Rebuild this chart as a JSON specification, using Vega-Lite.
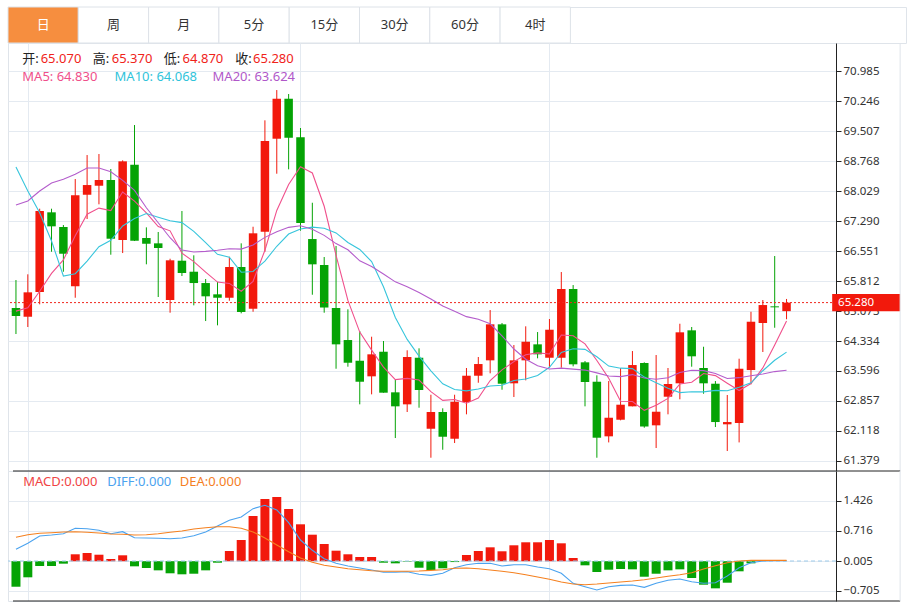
{
"$schema": "https://vega.github.io/schema/vega-lite/v6.json",
"padding": {"left": 7, "top": 6, "right": 6, "bottom": 3},
"background": "white",
"spacing": 0,
"bounds": "flush",
"config": {
  "view": {"stroke": "#dfe4ea"},
  "axis": {"labelFont": "Noto Sans", "labelFontSize": 11.5, "labelColor": "#333", "domainColor": "#222", "tickColor": "#222", "gridColor": "#e4eaf1", "labelOverlap": false}
},
"datasets": {
"k": [
{"i":0,"o":65.147,"h":65.836,"l":64.506,"c":64.950,"ma5":65.07,"ma10":68.62,"ma20":67.684,"macd":-0.604,"diff":0.282,"dea":0.566},
{"i":1,"o":64.932,"h":65.977,"l":64.679,"c":65.533,"ma5":65.15,"ma10":68.029,"ma20":67.782,"macd":-0.381,"diff":0.424,"dea":0.628},
{"i":2,"o":65.541,"h":67.593,"l":65.238,"c":67.536,"ma5":65.56,"ma10":67.494,"ma20":68.029,"macd":-0.113,"diff":0.597,"dea":0.661},
{"i":3,"o":67.504,"h":67.593,"l":66.533,"c":67.159,"ma5":66.0,"ma10":66.797,"ma20":68.226,"macd":-0.113,"diff":0.621,"dea":0.675},
{"i":4,"o":67.142,"h":67.191,"l":66.041,"c":66.484,"ma5":66.332,"ma10":65.935,"ma20":68.317,"macd":-0.058,"diff":0.652,"dea":0.692},
{"i":5,"o":65.681,"h":68.324,"l":65.400,"c":67.923,"ma5":66.927,"ma10":65.991,"ma20":68.440,"macd":0.164,"diff":0.779,"dea":0.699},
{"i":6,"o":67.937,"h":68.915,"l":67.339,"c":68.176,"ma5":67.456,"ma10":66.304,"ma20":68.595,"macd":0.194,"diff":0.770,"dea":0.685},
{"i":7,"o":68.159,"h":68.940,"l":67.701,"c":68.300,"ma5":67.608,"ma10":66.657,"ma20":68.595,"macd":0.154,"diff":0.732,"dea":0.668},
{"i":8,"o":68.300,"h":68.571,"l":66.460,"c":66.854,"ma5":67.547,"ma10":66.814,"ma20":68.504,"macd":0.052,"diff":0.652,"dea":0.644},
{"i":9,"o":66.822,"h":68.785,"l":66.501,"c":68.760,"ma5":68.003,"ma10":67.168,"ma20":68.292,"macd":0.140,"diff":0.699,"dea":0.637},
{"i":10,"o":68.676,"h":69.654,"l":66.797,"c":66.804,"ma5":67.779,"ma10":67.353,"ma20":68.046,"macd":-0.121,"diff":0.557,"dea":0.621},
{"i":11,"o":66.871,"h":67.134,"l":66.223,"c":66.730,"ma5":67.490,"ma10":67.473,"ma20":67.617,"macd":-0.161,"diff":0.550,"dea":0.628},
{"i":12,"o":66.740,"h":67.019,"l":65.418,"c":66.625,"ma5":67.155,"ma10":67.382,"ma20":67.248,"macd":-0.216,"diff":0.543,"dea":0.652},
{"i":13,"o":65.344,"h":66.361,"l":65.031,"c":66.322,"ma5":67.048,"ma10":67.298,"ma20":66.878,"macd":-0.286,"diff":0.533,"dea":0.685},
{"i":14,"o":66.312,"h":67.536,"l":65.935,"c":66.009,"ma5":66.498,"ma10":67.250,"ma20":66.575,"macd":-0.310,"diff":0.550,"dea":0.715},
{"i":15,"o":66.041,"h":66.445,"l":65.213,"c":65.762,"ma5":66.290,"ma10":67.034,"ma20":66.526,"macd":-0.296,"diff":0.604,"dea":0.763},
{"i":16,"o":65.762,"h":65.861,"l":64.826,"c":65.435,"ma5":66.031,"ma10":66.760,"ma20":66.543,"macd":-0.216,"diff":0.692,"dea":0.794},
{"i":17,"o":65.484,"h":65.787,"l":64.720,"c":65.400,"ma5":65.786,"ma10":66.470,"ma20":66.568,"macd":-0.035,"diff":0.834,"dea":0.817},
{"i":18,"o":65.400,"h":66.410,"l":65.326,"c":66.157,"ma5":65.753,"ma10":66.400,"ma20":66.607,"macd":0.242,"diff":0.969,"dea":0.817},
{"i":19,"o":66.157,"h":66.740,"l":65.016,"c":65.048,"ma5":65.560,"ma10":66.029,"ma20":66.598,"macd":0.502,"diff":1.047,"dea":0.779},
{"i":20,"o":65.129,"h":67.149,"l":65.055,"c":66.987,"ma5":65.805,"ma10":66.048,"ma20":66.700,"macd":1.071,"diff":1.244,"dea":0.692},
{"i":21,"o":67.026,"h":69.770,"l":66.533,"c":69.260,"ma5":66.570,"ma10":66.301,"ma20":66.887,"macd":1.473,"diff":1.324,"dea":0.550},
{"i":22,"o":69.317,"h":70.516,"l":68.455,"c":70.302,"ma5":67.551,"ma10":66.668,"ma20":67.025,"macd":1.521,"diff":1.213,"dea":0.384},
{"i":23,"o":70.302,"h":70.418,"l":68.563,"c":69.341,"ma5":68.188,"ma10":66.970,"ma20":67.134,"macd":1.236,"diff":0.912,"dea":0.225},
{"i":24,"o":69.351,"h":69.581,"l":67.051,"c":67.241,"ma5":68.626,"ma10":67.093,"ma20":67.172,"macd":0.874,"diff":0.502,"dea":0.076},
{"i":25,"o":66.846,"h":67.740,"l":65.474,"c":66.223,"ma5":68.473,"ma10":67.139,"ma20":67.087,"macd":0.628,"diff":0.258,"dea":-0.026},
{"i":26,"o":66.206,"h":66.403,"l":65.031,"c":65.159,"ma5":67.653,"ma10":67.112,"ma20":66.936,"macd":0.408,"diff":0.059,"dea":-0.097},
{"i":27,"o":65.147,"h":66.674,"l":63.651,"c":64.252,"ma5":66.443,"ma10":66.997,"ma20":66.734,"macd":0.249,"diff":-0.050,"dea":-0.137},
{"i":28,"o":64.358,"h":65.115,"l":63.701,"c":63.799,"ma5":65.335,"ma10":66.761,"ma20":66.581,"macd":0.164,"diff":-0.113,"dea":-0.177},
{"i":29,"o":63.848,"h":64.580,"l":62.774,"c":63.331,"ma5":64.553,"ma10":66.590,"ma20":66.309,"macd":0.100,"diff":-0.161,"dea":-0.201},
{"i":30,"o":63.464,"h":64.440,"l":63.020,"c":64.006,"ma5":64.109,"ma10":66.291,"ma20":66.169,"macd":0.100,"diff":-0.208,"dea":-0.225},
{"i":31,"o":64.070,"h":64.334,"l":63.061,"c":63.061,"ma5":63.690,"ma10":65.672,"ma20":65.986,"macd":-0.035,"diff":-0.263,"dea":-0.239},
{"i":32,"o":63.070,"h":63.380,"l":61.944,"c":62.725,"ma5":63.384,"ma10":64.914,"ma20":65.791,"macd":-0.050,"diff":-0.263,"dea":-0.239},
{"i":33,"o":62.774,"h":64.105,"l":62.585,"c":63.940,"ma5":63.413,"ma10":64.374,"ma20":65.672,"macd":-0.010,"diff":-0.248,"dea":-0.239},
{"i":34,"o":63.922,"h":64.154,"l":62.691,"c":63.127,"ma5":63.372,"ma10":63.962,"ma20":65.528,"macd":-0.154,"diff":-0.310,"dea":-0.232},
{"i":35,"o":62.173,"h":63.011,"l":61.459,"c":62.585,"ma5":63.088,"ma10":63.599,"ma20":65.369,"macd":-0.208,"diff":-0.334,"dea":-0.216},
{"i":36,"o":62.585,"h":62.676,"l":61.656,"c":61.976,"ma5":62.871,"ma10":63.280,"ma20":65.196,"macd":-0.168,"diff":-0.286,"dea":-0.201},
{"i":37,"o":61.927,"h":63.011,"l":61.821,"c":62.838,"ma5":62.893,"ma10":63.139,"ma20":65.068,"macd":-0.020,"diff":-0.154,"dea":-0.168},
{"i":38,"o":62.831,"h":63.669,"l":62.528,"c":63.479,"ma5":62.801,"ma10":63.107,"ma20":64.934,"macd":0.147,"diff":-0.083,"dea":-0.161},
{"i":39,"o":63.479,"h":63.940,"l":63.306,"c":63.767,"ma5":62.929,"ma10":63.150,"ma20":64.870,"macd":0.242,"diff":-0.050,"dea":-0.177},
{"i":40,"o":63.858,"h":65.097,"l":63.538,"c":64.745,"ma5":63.361,"ma10":63.224,"ma20":64.758,"macd":0.329,"diff":-0.050,"dea":-0.208},
{"i":41,"o":64.745,"h":64.777,"l":63.134,"c":63.282,"ma5":63.622,"ma10":63.246,"ma20":64.459,"macd":0.235,"diff":-0.113,"dea":-0.239},
{"i":42,"o":63.292,"h":64.235,"l":62.955,"c":63.858,"ma5":63.826,"ma10":63.360,"ma20":64.137,"macd":0.377,"diff":-0.083,"dea":-0.272},
{"i":43,"o":63.858,"h":64.696,"l":63.365,"c":64.316,"ma5":63.994,"ma10":63.397,"ma20":63.886,"macd":0.448,"diff":-0.083,"dea":-0.319},
{"i":44,"o":64.252,"h":64.555,"l":63.908,"c":64.006,"ma5":64.041,"ma10":63.485,"ma20":63.724,"macd":0.448,"diff":-0.137,"dea":-0.374},
{"i":45,"o":63.922,"h":64.876,"l":63.676,"c":64.612,"ma5":64.015,"ma10":63.688,"ma20":63.643,"macd":0.502,"diff":-0.177,"dea":-0.428},
{"i":46,"o":63.922,"h":66.033,"l":63.676,"c":65.615,"ma5":64.481,"ma10":64.052,"ma20":63.666,"macd":0.424,"diff":-0.286,"dea":-0.492},
{"i":47,"o":65.615,"h":65.713,"l":63.710,"c":63.760,"ma5":64.462,"ma10":64.144,"ma20":63.641,"macd":0.076,"diff":-0.523,"dea":-0.540},
{"i":48,"o":63.809,"h":63.841,"l":62.725,"c":63.324,"ma5":64.263,"ma10":64.129,"ma20":63.618,"macd":-0.097,"diff":-0.604,"dea":-0.556},
{"i":49,"o":63.331,"h":63.489,"l":61.459,"c":61.952,"ma5":63.853,"ma10":63.947,"ma20":63.549,"macd":-0.256,"diff":-0.682,"dea":-0.540},
{"i":50,"o":61.986,"h":63.348,"l":61.836,"c":62.444,"ma5":63.419,"ma10":63.717,"ma20":63.471,"macd":-0.201,"diff":-0.604,"dea":-0.516},
{"i":51,"o":62.395,"h":63.669,"l":62.380,"c":62.765,"ma5":62.849,"ma10":63.665,"ma20":63.456,"macd":-0.184,"diff":-0.571,"dea":-0.492},
{"i":52,"o":62.725,"h":64.087,"l":62.725,"c":63.742,"ma5":62.845,"ma10":63.654,"ma20":63.507,"macd":-0.192,"diff":-0.563,"dea":-0.469},
{"i":53,"o":63.792,"h":63.809,"l":62.198,"c":62.228,"ma5":62.626,"ma10":63.445,"ma20":63.421,"macd":-0.367,"diff":-0.618,"dea":-0.438},
{"i":54,"o":62.257,"h":63.989,"l":61.698,"c":62.592,"ma5":62.754,"ma10":63.303,"ma20":63.394,"macd":-0.296,"diff":-0.523,"dea":-0.398},
{"i":55,"o":62.962,"h":63.669,"l":62.528,"c":63.275,"ma5":62.920,"ma10":63.170,"ma20":63.429,"macd":-0.216,"diff":-0.452,"dea":-0.357},
{"i":56,"o":63.292,"h":64.760,"l":62.898,"c":64.548,"ma5":63.277,"ma10":63.063,"ma20":63.557,"macd":-0.192,"diff":-0.421,"dea":-0.319},
{"i":57,"o":64.597,"h":64.679,"l":63.701,"c":63.957,"ma5":63.320,"ma10":63.083,"ma20":63.613,"macd":-0.398,"diff":-0.485,"dea":-0.272},
{"i":58,"o":63.669,"h":64.193,"l":63.035,"c":63.292,"ma5":63.533,"ma10":63.080,"ma20":63.604,"macd":-0.556,"diff":-0.523,"dea":-0.184},
{"i":59,"o":63.282,"h":63.348,"l":62.215,"c":62.338,"ma5":63.482,"ma10":63.118,"ma20":63.533,"macd":-0.642,"diff":-0.509,"dea":-0.106},
{"i":60,"o":62.282,"h":63.004,"l":61.624,"c":62.338,"ma5":63.295,"ma10":63.108,"ma20":63.412,"macd":-0.509,"diff":-0.350,"dea":-0.035},
{"i":61,"o":62.314,"h":63.898,"l":61.836,"c":63.651,"ma5":63.115,"ma10":63.196,"ma20":63.431,"macd":-0.239,"diff":-0.154,"dea":0.005},
{"i":62,"o":63.619,"h":65.055,"l":63.267,"c":64.809,"ma5":63.286,"ma10":63.303,"ma20":63.478,"macd":-0.050,"diff":-0.035,"dea":0.021},
{"i":63,"o":64.777,"h":65.344,"l":64.063,"c":65.220,"ma5":63.671,"ma10":63.602,"ma20":63.523,"macd":0.0,"diff":0.005,"dea":0.021},
{"i":64,"o":65.188,"h":66.427,"l":64.661,"c":65.164,"ma5":64.236,"ma10":63.859,"ma20":63.581,"macd":0.0,"diff":0.012,"dea":0.021},
{"i":65,"o":65.070,"h":65.370,"l":64.870,"c":65.280,"ma5":64.825,"ma10":64.060,"ma20":63.615,"macd":0.0,"diff":0.012,"dea":0.021}
]
},
"vconcat": [
{
  "width": 898, "height": 36,
  "data": {"values": [{"tab":"日"},{"tab":"周"},{"tab":"月"},{"tab":"5分"},{"tab":"15分"},{"tab":"30分"},{"tab":"60分"},{"tab":"4时"}]},
  "layer": [
    {"mark": {"type": "rect", "stroke": "#dde2e8", "strokeWidth": 1},
     "encoding": {
       "x": {"field": "tab", "type": "nominal", "scale": {"domain": ["日","周","月","5分","15分","30分","60分","4时"], "range": [0, 562.4], "paddingInner": 0, "paddingOuter": 0}, "axis": null},
       "fill": {"condition": {"test": "datum.tab === '日'", "value": "#f68e3f"}, "value": "white"}
     }},
    {"mark": {"type": "text", "font": "Noto Sans, Noto Sans CJK SC", "fontSize": 13, "baseline": "middle"},
     "encoding": {
       "x": {"field": "tab", "type": "nominal"},
       "text": {"field": "tab"},
       "color": {"condition": {"test": "datum.tab === '日'", "value": "white"}, "value": "#333"}
     }}
  ]
},
{
  "width": 828, "height": 428,
  "layer": [
    {"data": {"name": "k"}, "mark": {"type": "rule", "strokeWidth": 1},
     "encoding": {
       "x": {"field": "i", "type": "quantitative", "scale": {"domain": [-0.25, 68.75], "nice": false, "zero": false},
             "axis": {"values": [1, 24, 45], "tickCount": 10, "grid": true, "labels": false, "ticks": false, "domain": false, "title": null}},
       "y": {"field": "l", "type": "quantitative", "scale": {"domain": [61.132, 71.675], "nice": false, "zero": false},
             "axis": {"orient": "right", "values": [61.379, 62.118, 62.857, 63.596, 64.334, 65.073, 65.812, 66.551, 67.29, 68.029, 68.768, 69.507, 70.246, 70.985], "tickCount": 30, "format": ".3f", "grid": true, "tickSize": 5, "labelPadding": 2, "labelOverlap": false, "title": null}},
       "y2": {"field": "h"},
       "color": {"condition": {"test": "datum.c >= datum.o", "value": "#f2190c"}, "value": "#05a305"}
     }},
    {"data": {"name": "k"}, "mark": {"type": "bar", "size": 8.5},
     "encoding": {
       "x": {"field": "i", "type": "quantitative"},
       "y": {"field": "o", "type": "quantitative", "title": null},
       "y2": {"field": "c"},
       "color": {"condition": {"test": "datum.c >= datum.o", "value": "#f2190c"}, "value": "#05a305"}
     }},
    {"data": {"name": "k"}, "mark": {"type": "line", "strokeWidth": 1.1, "color": "#f0508c"},
     "encoding": {"x": {"field": "i", "type": "quantitative"}, "y": {"field": "ma5", "type": "quantitative", "title": null}}},
    {"data": {"name": "k"}, "mark": {"type": "line", "strokeWidth": 1.1, "color": "#37c5dc"},
     "encoding": {"x": {"field": "i", "type": "quantitative"}, "y": {"field": "ma10", "type": "quantitative", "title": null}}},
    {"data": {"name": "k"}, "mark": {"type": "line", "strokeWidth": 1.1, "color": "#b45dcc"},
     "encoding": {"x": {"field": "i", "type": "quantitative"}, "y": {"field": "ma20", "type": "quantitative", "title": null}}},
    {"data": {"values": [{}]}, "mark": {"type": "rule", "color": "#f0271d", "strokeDash": [2, 2], "strokeWidth": 1},
     "encoding": {"y": {"datum": 65.28}}},
    {"data": {"values": [{}]}, "mark": {"type": "rect", "color": "#f2190c", "clip": false},
     "encoding": {"x": {"datum": 68.85}, "x2": {"datum": 74.58}, "y": {"datum": 65.49}, "y2": {"datum": 65.07}}},
    {"data": {"values": [{}]}, "mark": {"type": "text", "align": "left", "baseline": "middle", "color": "white", "font": "Noto Sans", "fontSize": 11.5, "clip": false},
     "encoding": {"x": {"datum": 69.35}, "y": {"datum": 65.28}, "text": {"value": "65.280"}}},
    {"data": {"values": [{}]}, "mark": {"type": "rule", "color": "#dfe4ea", "clip": false},
     "encoding": {"x": {"datum": 74.58}, "y": {"datum": 71.675}, "y2": {"datum": 61.132}}},
    {"data": {"values": [{}]}, "mark": {"type": "text", "align": "left", "baseline": "middle", "color": "#222", "font": "Noto Sans, Noto Sans CJK SC", "fontSize": 13},
     "encoding": {"x": {"datum": 0.533}, "y": {"datum": 71.293}, "text": {"value": "开:"}}},
    {"data": {"values": [{}]}, "mark": {"type": "text", "align": "left", "baseline": "middle", "color": "#f0231a", "font": "Noto Sans", "fontSize": 13},
     "encoding": {"x": {"datum": 2.083}, "y": {"datum": 71.293}, "text": {"value": "65.070"}}},
    {"data": {"values": [{}]}, "mark": {"type": "text", "align": "left", "baseline": "middle", "color": "#222", "font": "Noto Sans, Noto Sans CJK SC", "fontSize": 13},
     "encoding": {"x": {"datum": 6.467}, "y": {"datum": 71.293}, "text": {"value": "高:"}}},
    {"data": {"values": [{}]}, "mark": {"type": "text", "align": "left", "baseline": "middle", "color": "#f0231a", "font": "Noto Sans", "fontSize": 13},
     "encoding": {"x": {"datum": 8.075}, "y": {"datum": 71.293}, "text": {"value": "65.370"}}},
    {"data": {"values": [{}]}, "mark": {"type": "text", "align": "left", "baseline": "middle", "color": "#222", "font": "Noto Sans, Noto Sans CJK SC", "fontSize": 13},
     "encoding": {"x": {"datum": 12.458}, "y": {"datum": 71.293}, "text": {"value": "低:"}}},
    {"data": {"values": [{}]}, "mark": {"type": "text", "align": "left", "baseline": "middle", "color": "#f0231a", "font": "Noto Sans", "fontSize": 13},
     "encoding": {"x": {"datum": 14.058}, "y": {"datum": 71.293}, "text": {"value": "64.870"}}},
    {"data": {"values": [{}]}, "mark": {"type": "text", "align": "left", "baseline": "middle", "color": "#222", "font": "Noto Sans, Noto Sans CJK SC", "fontSize": 13},
     "encoding": {"x": {"datum": 18.492}, "y": {"datum": 71.293}, "text": {"value": "收:"}}},
    {"data": {"values": [{}]}, "mark": {"type": "text", "align": "left", "baseline": "middle", "color": "#f0231a", "font": "Noto Sans", "fontSize": 13},
     "encoding": {"x": {"datum": 20.0}, "y": {"datum": 71.293}, "text": {"value": "65.280"}}},
    {"data": {"values": [{}]}, "mark": {"type": "text", "align": "left", "baseline": "middle", "color": "#ef4f8a", "font": "Noto Sans", "fontSize": 13},
     "encoding": {"x": {"datum": 0.533}, "y": {"datum": 70.837}, "text": {"value": "MA5: 64.830"}}},
    {"data": {"values": [{}]}, "mark": {"type": "text", "align": "left", "baseline": "middle", "color": "#2fc3da", "font": "Noto Sans", "fontSize": 13},
     "encoding": {"x": {"datum": 8.317}, "y": {"datum": 70.837}, "text": {"value": "MA10: 64.068"}}},
    {"data": {"values": [{}]}, "mark": {"type": "text", "align": "left", "baseline": "middle", "color": "#b058c9", "font": "Noto Sans", "fontSize": 13},
     "encoding": {"x": {"datum": 16.583}, "y": {"datum": 70.837}, "text": {"value": "MA20: 63.624"}}}
  ]
},
{
  "width": 828, "height": 130,
  "layer": [
    {"data": {"name": "k"}, "mark": {"type": "bar", "size": 9},
     "encoding": {
       "x": {"field": "i", "type": "quantitative", "scale": {"domain": [-0.25, 68.75], "nice": false, "zero": false},
             "axis": {"values": [1, 24, 45], "tickCount": 10, "grid": true, "labels": false, "ticks": false, "domain": false, "title": null}},
       "y": {"field": "macd", "type": "quantitative", "scale": {"domain": [-0.942, 2.136], "nice": false, "zero": false},
             "axis": {"orient": "right", "values": [-0.705, 0.005, 0.716, 1.426], "tickCount": 10, "format": ".3f", "grid": true, "tickSize": 5, "labelPadding": 2, "labelOverlap": false, "title": null}},
       "y2": {"datum": 0},
       "color": {"condition": {"test": "datum.macd >= 0", "value": "#f2190c"}, "value": "#05a305"}
     }},
    {"data": {"values": [{}]}, "mark": {"type": "rule", "color": "#9ecbea", "strokeDash": [4, 3], "strokeWidth": 1},
     "encoding": {"y": {"datum": 0.005}}},
    {"data": {"name": "k"}, "mark": {"type": "line", "strokeWidth": 1.1, "color": "#4ba3ef"},
     "encoding": {"x": {"field": "i", "type": "quantitative"}, "y": {"field": "diff", "type": "quantitative", "title": null}}},
    {"data": {"name": "k"}, "mark": {"type": "line", "strokeWidth": 1.1, "color": "#f5801f"},
     "encoding": {"x": {"field": "i", "type": "quantitative"}, "y": {"field": "dea", "type": "quantitative", "title": null}}},
    {"data": {"values": [{}]}, "mark": {"type": "rule", "color": "#222", "clip": false},
     "encoding": {"x": {"datum": -0.25}, "x2": {"datum": 74.58}, "y": {"datum": 2.136}}},
    {"data": {"values": [{}]}, "mark": {"type": "rule", "color": "#222", "clip": false},
     "encoding": {"x": {"datum": -0.25}, "x2": {"datum": 74.58}, "y": {"datum": -0.942}}},
    {"data": {"values": [{}]}, "mark": {"type": "rule", "color": "#dfe4ea", "clip": false},
     "encoding": {"x": {"datum": 74.58}, "y": {"datum": 2.136}, "y2": {"datum": -0.942}}},
    {"data": {"values": [{}]}, "mark": {"type": "text", "align": "left", "baseline": "middle", "color": "#f04444", "font": "Noto Sans", "fontSize": 13},
     "encoding": {"x": {"datum": 0.608}, "y": {"datum": 1.883}, "text": {"value": "MACD:0.000"}}},
    {"data": {"values": [{}]}, "mark": {"type": "text", "align": "left", "baseline": "middle", "color": "#4ba3ef", "font": "Noto Sans", "fontSize": 13},
     "encoding": {"x": {"datum": 7.692}, "y": {"datum": 1.883}, "text": {"value": "DIFF:0.000"}}},
    {"data": {"values": [{}]}, "mark": {"type": "text", "align": "left", "baseline": "middle", "color": "#f5801f", "font": "Noto Sans", "fontSize": 13},
     "encoding": {"x": {"datum": 13.808}, "y": {"datum": 1.883}, "text": {"value": "DEA:0.000"}}}
  ]
}
]
}
